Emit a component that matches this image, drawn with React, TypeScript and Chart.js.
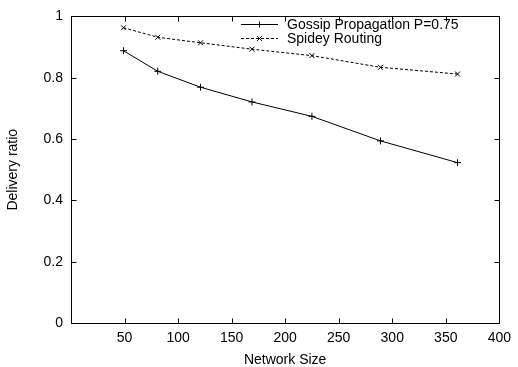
import React, { useEffect, useRef } from 'react';
import { Chart, registerables } from 'chart.js';

Chart.register(...registerables);

const networkSizes = [49, 81, 121, 169, 225, 289, 361];
const gossipRatio = [0.888, 0.821, 0.769, 0.721, 0.674, 0.594, 0.523];
const spideyRatio = [0.963, 0.932, 0.914, 0.893, 0.872, 0.834, 0.812];
const seriesNames = ['Gossip Propagation P=0.75', 'Spidey Routing'];
const xTickValues = [50, 100, 150, 200, 250, 300, 350, 400];
const yTickValues = [0, 0.2, 0.4, 0.6, 0.8, 1];
const xTitle = 'Network Size';
const yTitle = 'Delivery ratio';

const FONT = "'Liberation Sans', Arial, Helvetica, sans-serif";
const FS = 14;

const boxPlugin = {
  id: 'gnuplotBox',
  afterDraw(chart: any) {
    const { ctx, chartArea: a, scales } = chart;
    const L = Math.round(a.left) + 0.5;
    const R = Math.round(a.right) + 0.5;
    const T = Math.round(a.top) + 0.5;
    const B = Math.round(a.bottom) + 0.5;
    ctx.save();
    ctx.strokeStyle = '#000';
    ctx.lineWidth = 1;
    ctx.setLineDash([]);
    ctx.strokeRect(L, T, R - L, B - T);
    const tl = 5;
    ctx.beginPath();
    xTickValues.forEach((v) => {
      const px = Math.round(scales.x.getPixelForValue(v)) + 0.5;
      ctx.moveTo(px, B);
      ctx.lineTo(px, B - tl);
      ctx.moveTo(px, T);
      ctx.lineTo(px, T + tl);
    });
    yTickValues.forEach((v) => {
      const py = Math.round(scales.y.getPixelForValue(v)) + 0.5;
      ctx.moveTo(L, py);
      ctx.lineTo(L + tl, py);
      ctx.moveTo(R, py);
      ctx.lineTo(R - tl, py);
    });
    ctx.stroke();

    // legend
    const x0 = 241;
    const x1 = 278;
    const textX = 287;
    const rows = [24, 38];
    chart.data.datasets.forEach((ds: any, i: number) => {
      const y = rows[i] + 0.5;
      ctx.strokeStyle = ds.borderColor;
      ctx.lineWidth = ds.borderWidth;
      ctx.setLineDash(ds.borderDash || []);
      ctx.beginPath();
      ctx.moveTo(x0, y);
      ctx.lineTo(x1, y);
      ctx.stroke();
      ctx.setLineDash([]);
      const cx = (x0 + x1) / 2;
      const r = 3;
      ctx.beginPath();
      if (ds.pointStyle === 'cross') {
        ctx.moveTo(cx - r, y);
        ctx.lineTo(cx + r, y);
        ctx.moveTo(cx, y - r);
        ctx.lineTo(cx, y + r);
      } else {
        const d = r * 0.8;
        ctx.moveTo(cx - d, y - d);
        ctx.lineTo(cx + d, y + d);
        ctx.moveTo(cx - d, y + d);
        ctx.lineTo(cx + d, y - d);
      }
      ctx.stroke();
      ctx.fillStyle = '#000';
      ctx.font = `${FS}px ${FONT}`;
      ctx.textAlign = 'left';
      ctx.textBaseline = 'middle';
      ctx.fillText(ds.label, textX, rows[i] + 1.5);
    });
    ctx.restore();
  },
};

export default function App() {
  const ref = useRef<HTMLCanvasElement>(null);

  useEffect(() => {
    if (!ref.current) return;
    const chart = new Chart(ref.current, {
      type: 'line',
      data: {
        datasets: [
          {
            label: seriesNames[0],
            data: networkSizes.map((x, i) => ({ x, y: gossipRatio[i] })),
            borderColor: '#000',
            backgroundColor: '#000',
            borderWidth: 1,
            pointStyle: 'cross',
            pointRadius: 3.5,
            pointBorderWidth: 1,
            pointBorderColor: '#000',
            tension: 0,
            fill: false,
          },
          {
            label: seriesNames[1],
            data: networkSizes.map((x, i) => ({ x, y: spideyRatio[i] })),
            borderColor: '#000',
            backgroundColor: '#000',
            borderWidth: 1,
            borderDash: [3, 2],
            pointStyle: 'crossRot',
            pointRadius: 3.5,
            pointBorderWidth: 1,
            pointBorderColor: '#000',
            tension: 0,
            fill: false,
          },
        ],
      },
      options: {
        animation: false,
        responsive: false,
        devicePixelRatio: 1,
        layout: { padding: { top: 13, right: 13, left: 0, bottom: 0 } },
        plugins: {
          legend: { display: false },
          tooltip: { enabled: false },
        },
        scales: {
          x: {
            type: 'linear',
            min: 0,
            max: 400,
            afterBuildTicks: (s: any) => {
              s.ticks = xTickValues.map((v) => ({ value: v }));
            },
            afterFit: (s: any) => {
              s.height = 44;
            },
            grid: { display: false, drawTicks: false },
            border: { display: false },
            ticks: {
              color: '#000',
              font: { family: FONT, size: FS },
              padding: 7,
              autoSkip: false,
              maxRotation: 0,
              callback: (v: any) => String(v),
            },
            title: {
              display: true,
              text: xTitle,
              color: '#000',
              font: { family: FONT, size: FS },
              padding: { top: 0, bottom: -2 },
            },
          },
          y: {
            type: 'linear',
            min: 0,
            max: 1,
            afterBuildTicks: (s: any) => {
              s.ticks = yTickValues.map((v) => ({ value: v }));
            },
            afterFit: (s: any) => {
              s.width = 71;
            },
            grid: { display: false, drawTicks: false },
            border: { display: false },
            ticks: {
              color: '#000',
              font: { family: FONT, size: FS },
              padding: 8,
              callback: (v: any) => String(Math.round(v * 10) / 10),
            },
            title: {
              display: true,
              text: yTitle,
              color: '#000',
              font: { family: FONT, size: FS },
              padding: { top: 5, bottom: 0 },
            },
          },
        },
      },
      plugins: [boxPlugin],
    } as any);
    return () => chart.destroy();
  }, []);

  return (
    <canvas
      ref={ref}
      width={518}
      height={367}
      style={{ position: 'absolute', left: 0, top: 0, display: 'block', width: 518, height: 367 }}
    />
  );
}
